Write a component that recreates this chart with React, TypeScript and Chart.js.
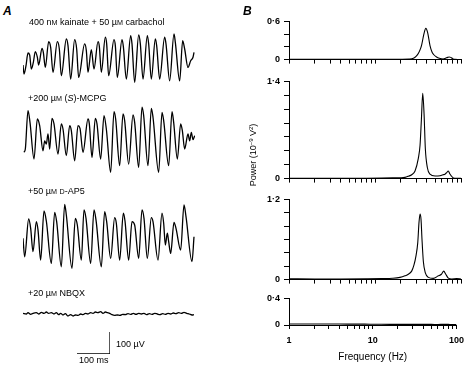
import React, { useEffect, useRef } from 'react';
import { Chart, registerables } from 'chart.js';

Chart.register(...registerables);

const FONT = '"Liberation Sans", Arial, Helvetica, sans-serif';

// ---------- Panel A: field potential traces, [time (ms), potential (µV)] ----------
const TRACE_KAINATE: [number, number][] = [
  [0, -27], [3, -68], [9, -30], [15, 27], [20, 18], [25, -45], [31, -15], [37, 33], [43, 8], [47, -27],
  [57, 48], [61, 30], [67, -38], [77, 78], [83, 52], [90, -60], [103, 78], [109, 45], [115, -75], [130, 90],
  [135, 60], [143, -90], [155, 87], [161, 45], [167, -83], [185, 68], [190, 38], [195, -60], [205, 42], [213, -45],
  [225, 78], [229, 57], [235, -60], [247, 98], [251, 68], [257, -75], [273, 87], [277, 60], [283, -83], [297, 87],
  [301, 57], [310, -90], [323, 105], [327, 68], [335, -105], [347, 108], [352, 68], [360, -90], [373, 105], [377, 68],
  [385, -90], [397, 90], [401, 60], [410, -90], [425, 98], [429, 68], [440, -98], [453, 113], [457, 75], [470, -98],
  [479, 83], [485, 45], [495, -38], [503, -8], [510, 8], [513, 30],
];

const TRACE_MCPG: [number, number][] = [
  [3, -60], [7, -45], [15, 128], [21, 75], [33, -90], [43, 90], [50, 60], [60, -53], [65, -8], [70, -23],
  [75, 23], [80, -45], [87, 93], [93, 68], [105, -68], [115, 68], [120, 45], [130, -75], [140, 60], [145, 38],
  [155, -98], [165, 60], [171, 48], [180, -60], [195, 90], [199, 68], [207, -83], [217, 93], [222, 68], [233, -90],
  [243, 105], [250, 45], [263, -150], [273, 123], [278, 90], [290, -120], [300, 113], [305, 83], [317, -113], [330, 108],
  [335, 75], [347, -128], [357, 143], [362, 105], [375, -120], [385, 138], [390, 98], [407, -150], [417, 120], [422, 83],
  [437, -120], [447, 123], [452, 75], [463, -90], [473, 68], [478, 38], [485, -45], [495, 23], [500, -8], [505, 30],
  [510, -3], [515, 15],
];

const TRACE_DAP5: [number, number][] = [
  [0, -15], [5, -98], [17, 72], [23, 30], [30, -75], [40, 60], [45, 23], [53, -113], [63, 108], [70, 63],
  [85, -128], [95, 102], [101, 60], [115, -143], [125, 138], [130, 90], [147, -150], [157, 75], [163, 45], [175, -113],
  [183, 113], [189, 75], [203, -128], [213, 113], [219, 68], [235, -143], [245, 105], [251, 60], [263, -105], [275, 78],
  [280, 53], [290, -113], [301, 98], [306, 63], [317, -113], [327, 60], [335, 45], [347, -105], [357, 113], [363, 75],
  [373, -105], [385, 78], [390, 60], [405, -113], [417, 98], [422, 53], [427, -45], [433, 8], [437, -30], [443, -83],
  [453, 57], [459, 30], [473, -68], [483, 135], [489, 83], [507, -120], [513, -8],
];

const TRACE_NBQX: [number, number][] = [
  [0, 3], [10, 0], [15, 6], [23, -1.5], [30, 3], [40, 6], [47, 0], [55, 7.5], [63, 3], [70, 9],
  [77, 3], [85, 6], [93, 0], [100, 6], [107, -3], [113, 3], [120, -4.5], [127, 1.5], [135, -9], [143, -3],
  [150, -9], [157, -4.5], [165, -6], [173, 0], [180, -3], [187, 3], [195, 0], [203, 6], [210, 3], [217, 9],
  [225, 6], [233, 10.5], [240, 3], [247, 9], [253, 6], [260, 3], [267, -3], [275, -6], [283, -4.5], [291, -6],
  [299, -1.5], [307, -3], [315, 1.5], [323, -1.5], [331, 3], [339, -1.5], [347, 3], [355, 0], [363, 3], [371, -3],
  [379, 1.5], [387, -1.5], [395, 3], [403, 0], [411, -3], [419, 1.5], [427, -1.5], [435, 3], [443, 0], [451, 4.5],
  [459, 1.5], [467, 6], [475, 3], [483, 7.5], [491, 3], [499, 0], [507, -4.5], [513, -3],
];

const TRACE_DURATION_MS = 516;
const TRACE_HALF_RANGE_UV = 157.5;
const SCALE_BAR_MS = 100;
const SCALE_BAR_UV = 100;

// ---------- Panel B: power spectra (frequency Hz, power 10^-9 V^2) ----------
const FREQ_KAINATE = [1, 2, 4, 8, 15, 20, 25, 28, 30, 32, 34, 35, 37, 39, 41, 43.6, 46, 48, 52, 56, 62, 66, 70, 73, 76, 80, 85, 92, 100];
const POWER_KAINATE = [0.004, 0.003, 0.003, 0.003, 0.004, 0.005, 0.008, 0.02, 0.05, 0.1, 0.18, 0.24, 0.4, 0.49, 0.42, 0.22, 0.12, 0.08, 0.04, 0.02, 0.008, 0.02, 0.035, 0.042, 0.035, 0.015, 0.004, 0.002, 0.002];

const FREQ_MCPG = [1, 2, 4, 8, 12, 16, 19.5, 22.3, 24.5, 26.7, 29.2, 31.9, 33.4, 34.6, 35.9, 37.2, 38.5, 40.6, 43.6, 49.9, 57, 62, 65, 68, 71.2, 74, 77, 81.5, 90, 100];
const POWER_MCPG = [0.006, 0.005, 0.004, 0.006, 0.008, 0.01, 0.012, 0.018, 0.035, 0.055, 0.11, 0.29, 0.48, 0.84, 1.23, 0.93, 0.43, 0.16, 0.064, 0.037, 0.041, 0.055, 0.064, 0.085, 0.11, 0.07, 0.04, 0.01, 0.004, 0.003];

const FREQ_DAP5 = [1, 2, 4, 8, 12, 16, 19.5, 22.3, 24.4, 26.7, 28.4, 30, 31.4, 32.5, 33.4, 34.3, 35.2, 36.5, 38.5, 41.8, 47.6, 54.5, 59.2, 63, 66.5, 71.2, 78, 89, 100];
const POWER_DAP5 = [0.012, 0.01, 0.01, 0.012, 0.015, 0.02, 0.033, 0.056, 0.08, 0.127, 0.22, 0.36, 0.55, 0.86, 0.98, 0.9, 0.6, 0.27, 0.1, 0.033, 0.019, 0.056, 0.08, 0.127, 0.08, 0.023, 0.01, 0.014, 0.01];

const FREQ_NBQX = [1, 2, 4, 8, 10, 12, 16, 20, 30, 40, 50, 60, 70, 80, 90, 100];
const POWER_NBQX = [0.015, 0.015, 0.014, 0.013, 0.012, 0.011, 0.01, 0.01, 0.01, 0.009, 0.009, 0.008, 0.01, 0.009, 0.008, 0.008];

const FREQ_TICKS = [1, 2, 3, 4, 5, 6, 7, 8, 9, 10, 20, 30, 40, 50, 60, 70, 80, 90, 100];
const FREQ_TICK_LABELS = [1, 10, 100];
const POWER_STEP = 0.2;

type Pos = { left: number; top: number; width: number; height: number };

function ChartBox({ pos, config }: { pos: Pos; config: () => any }) {
  const ref = useRef<HTMLCanvasElement>(null);
  useEffect(() => {
    const chart = new Chart(ref.current as HTMLCanvasElement, config());
    return () => chart.destroy();
  }, []);
  return (
    <div style={{ position: 'absolute', left: pos.left, top: pos.top, width: pos.width, height: pos.height }}>
      <canvas
        ref={ref}
        width={pos.width}
        height={pos.height}
        style={{ width: pos.width, height: pos.height, display: 'block' }}
      />
    </div>
  );
}

function traceConfig(points: [number, number][]) {
  return {
    type: 'line',
    data: {
      datasets: [
        {
          data: points.map(([x, y]) => ({ x, y })),
          borderColor: '#000',
          borderWidth: 1.3,
          pointRadius: 0,
          cubicInterpolationMode: 'monotone',
          fill: false,
        },
      ],
    },
    options: {
      animation: false,
      responsive: false,
      events: [],
      layout: { padding: 4 },
      plugins: { legend: { display: false }, tooltip: { enabled: false } },
      scales: {
        x: { type: 'linear', display: false, min: 0, max: TRACE_DURATION_MS },
        y: { type: 'linear', display: false, min: -TRACE_HALF_RANGE_UV, max: TRACE_HALF_RANGE_UV },
      },
    },
  };
}

function scaleBarConfig() {
  return {
    type: 'line',
    data: {
      datasets: [
        {
          data: [
            { x: 0, y: 0 },
            { x: SCALE_BAR_MS, y: 0 },
            { x: SCALE_BAR_MS, y: SCALE_BAR_UV },
          ],
          borderColor: '#000',
          borderWidth: 1.3,
          pointRadius: 0,
          tension: 0,
          fill: false,
        },
      ],
    },
    options: {
      animation: false,
      responsive: false,
      events: [],
      layout: { padding: 4 },
      plugins: { legend: { display: false }, tooltip: { enabled: false } },
      scales: {
        x: { type: 'linear', display: false, min: 0, max: SCALE_BAR_MS },
        y: { type: 'linear', display: false, min: 0, max: SCALE_BAR_UV },
      },
    },
  };
}

const fmtPower = (v: number) => (v === 0 ? '0' : v.toFixed(1).replace('.', '\u00B7'));

function spectrumConfig(freqs: number[], powers: number[], yMax: number, showX: boolean) {
  const tickFont = { family: FONT, size: 9, weight: 'bold' as const };
  return {
    type: 'line',
    data: {
      datasets: [
        {
          data: freqs.map((f, i) => ({ x: f, y: powers[i] })),
          borderColor: '#000',
          borderWidth: 1.1,
          pointRadius: 0,
          cubicInterpolationMode: 'monotone',
          fill: false,
        },
      ],
    },
    options: {
      animation: false,
      responsive: false,
      events: [],
      layout: { padding: { top: 8, right: 9, left: 0, bottom: 0 } },
      plugins: { legend: { display: false }, tooltip: { enabled: false } },
      scales: {
        x: {
          type: 'logarithmic',
          min: 1,
          max: 100,
          afterBuildTicks: (s: any) => {
            s.ticks = FREQ_TICKS.map((v) => ({ value: v }));
          },
          afterFit: (s: any) => {
            s.height = showX ? 40 : 6;
          },
          grid: { display: true, drawOnChartArea: false, drawTicks: true, tickLength: 4, color: '#000', lineWidth: 1 },
          border: { display: true, color: '#000', width: 1 },
          ticks: {
            display: showX,
            autoSkip: false,
            maxRotation: 0,
            padding: 6,
            color: '#000',
            font: tickFont,
            callback: (v: number) => (FREQ_TICK_LABELS.includes(v) ? String(v) : ''),
          },
          title: {
            display: showX,
            text: 'Frequency (Hz)',
            color: '#000',
            font: { family: FONT, size: 10 },
            padding: { top: 0, bottom: 2 },
          },
        },
        y: {
          type: 'linear',
          min: 0,
          max: yMax,
          afterFit: (s: any) => {
            s.width = 39;
          },
          grid: { display: true, drawOnChartArea: false, drawTicks: true, tickLength: 5, color: '#000', lineWidth: 1 },
          border: { display: true, color: '#000', width: 1 },
          ticks: {
            stepSize: POWER_STEP,
            padding: 4,
            color: '#000',
            font: tickFont,
            callback: (v: number) => (v === 0 || Math.abs(v - yMax) < 1e-6 ? fmtPower(v) : ''),
          },
        },
      },
    },
  };
}

const textBase: React.CSSProperties = {
  position: 'absolute',
  fontFamily: FONT,
  fontSize: 9,
  lineHeight: '10px',
  color: '#000',
  whiteSpace: 'nowrap',
};

const small = { fontSize: '0.8em' };
const sup: React.CSSProperties = { fontSize: 6, position: 'relative', top: -3 };

export default function App() {
  return (
    <div style={{ position: 'absolute', left: 0, top: 0, width: 470, height: 370, background: '#fff', overflow: 'hidden' }}>
      {/* Panel A traces */}
      <ChartBox pos={{ left: 19, top: 20, width: 180, height: 78 }} config={() => traceConfig(TRACE_KAINATE)} />
      <ChartBox pos={{ left: 19, top: 100, width: 180, height: 78 }} config={() => traceConfig(TRACE_MCPG)} />
      <ChartBox pos={{ left: 19, top: 196, width: 180, height: 78 }} config={() => traceConfig(TRACE_DAP5)} />
      <ChartBox pos={{ left: 19, top: 275, width: 180, height: 78 }} config={() => traceConfig(TRACE_NBQX)} />
      <ChartBox pos={{ left: 73, top: 328, width: 41, height: 30 }} config={scaleBarConfig} />

      {/* Panel B spectra */}
      <ChartBox pos={{ left: 250, top: 12, width: 220, height: 57 }} config={() => spectrumConfig(FREQ_KAINATE, POWER_KAINATE, 0.6, false)} />
      <ChartBox pos={{ left: 250, top: 72, width: 220, height: 116 }} config={() => spectrumConfig(FREQ_MCPG, POWER_MCPG, 1.4, false)} />
      <ChartBox pos={{ left: 250, top: 190, width: 220, height: 99 }} config={() => spectrumConfig(FREQ_DAP5, POWER_DAP5, 1.2, false)} />
      <ChartBox pos={{ left: 250, top: 289, width: 220, height: 76 }} config={() => spectrumConfig(FREQ_NBQX, POWER_NBQX, 0.4, true)} />

      {/* Texts */}
      <div style={{ ...textBase, left: 3, top: 4, fontSize: 12, lineHeight: '14px', fontWeight: 'bold', fontStyle: 'italic' }}>A</div>
      <div style={{ ...textBase, left: 243, top: 4, fontSize: 12, lineHeight: '14px', fontWeight: 'bold', fontStyle: 'italic' }}>B</div>

      <div style={{ ...textBase, left: 29, top: 17 }}>
        400 n<span style={small}>M</span> kainate + 50 µ<span style={small}>M</span> carbachol
      </div>
      <div style={{ ...textBase, left: 28, top: 93 }}>
        +200 µ<span style={small}>M</span> (<i>S</i>)-MCPG
      </div>
      <div style={{ ...textBase, left: 28, top: 186 }}>
        +50 µ<span style={small}>M</span> <span style={small}>D</span>-AP5
      </div>
      <div style={{ ...textBase, left: 28, top: 288 }}>
        +20 µ<span style={small}>M</span> NBQX
      </div>
      <div style={{ ...textBase, left: 116, top: 339 }}>100 µV</div>
      <div style={{ ...textBase, left: 79, top: 355 }}>100 ms</div>

      <div
        style={{
          ...textBase,
          left: 213,
          top: 150,
          width: 80,
          textAlign: 'center',
          transform: 'rotate(-90deg)',
          transformOrigin: '40px 5px',
        }}
      >
        Power (10<span style={sup}>−9</span> V<span style={sup}>2</span>)
      </div>
    </div>
  );
}
